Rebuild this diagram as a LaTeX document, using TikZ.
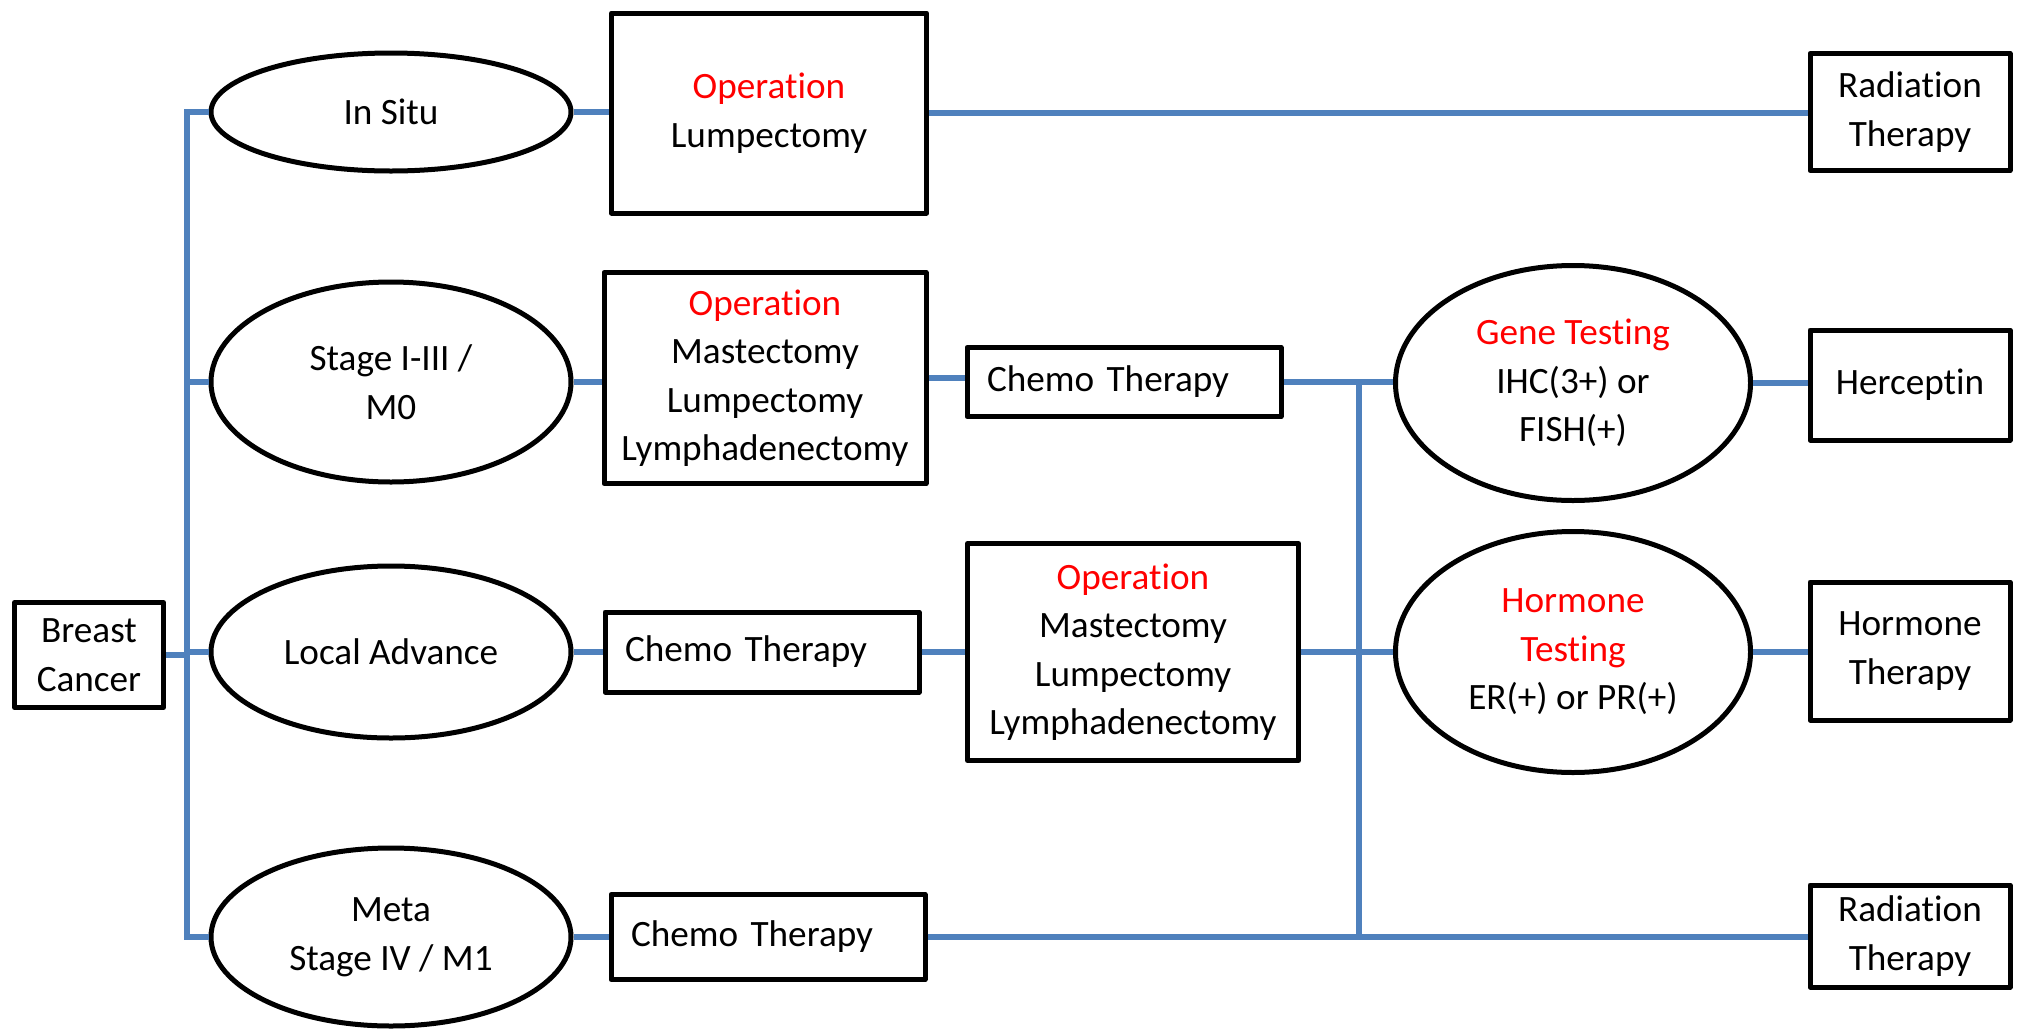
\documentclass[tikz,border=0pt]{standalone}
\usepackage{fontspec}
\setmainfont{Carlito}[Ligatures={NoCommon}]
\usetikzlibrary{shapes.geometric}
\definecolor{lineblue}{RGB}{79,129,189}
\newcommand{\boxfont}{\fontsize{18.6pt}{24.25pt}\selectfont}
\tikzset{box base/.style={draw,line width=2.5pt,line join=round,align=center,font=\boxfont}, }
\tikzset{box node/.style 2 args={rectangle,box base,minimum width=#1,minimum height=#2}, }
\tikzset{oval node/.style 2 args={ellipse,box base,inner sep=0pt,minimum width=#1,minimum height=#2}, }
\tikzset{chemo node/.style={rectangle,box base,align=left,text width=137pt,inner xsep=10pt,minimum height=#1}, }
\tikzset{link/.style={draw,line width=2.6pt,lineblue}}

\begin{document}
\begin{tikzpicture}[x=0.5pt,y=-0.5pt]
  \useasboundingbox (0,0) rectangle (2020,1029);
  % stages
  \node[box node={74.5pt}{52.5pt}] (1) at (89,655) {Breast\\Cancer};
  \node[oval node={180pt}{59pt}] (2) at (391,112) {In Situ};
  \node[oval node={180pt}{100pt}] (3) at (391,382) {Stage I-III /\\M0};
  \node[oval node={180pt}{86pt}] (4) at (391,652) {Local Advance};
  \node[oval node={180pt}{89pt}] (5) at (391,937) {Meta\\Stage IV / M1};
  % first treatment
  \node[box node={157.5pt}{100pt}] (6) at (769,113) {\textcolor{red}{Operation}\\Lumpectomy};
  \node[box node={161pt}{105.5pt}] (7) at (765,378) {\textcolor{red}{Operation}\\Mastectomy\\Lumpectomy\\Lymphadenectomy};
  \node[chemo node=40pt] (8) at (762,652) {Chemo Therapy};
  \node[chemo node=42.5pt] (9) at (768,937) {Chemo Therapy};
  % second treatment
  \node[chemo node=34.5pt] (10) at (1124,382) {Chemo Therapy};
  \node[box node={165.5pt}{108.5pt}] (11) at (1133,652) {\textcolor{red}{Operation}\\Mastectomy\\Lumpectomy\\Lymphadenectomy};
  % testing
  \node[oval node={177.5pt}{117.5pt}] (12) at (1573,383) {\textcolor{red}{Gene Testing}\\IHC(3+) or\\FISH(+)};
  \node[oval node={177.5pt}{120.5pt}] (13) at (1573,652) {\textcolor{red}{Hormone}\\\textcolor{red}{Testing}\\ER(+) or PR(+)};
  % therapy
  \node[box node={100pt}{58.5pt}] (14) at (1910,112) {Radiation\\Therapy};
  \node[box node={100pt}{55pt}] (15) at (1910,385) {Herceptin};
  \node[box node={100pt}{69pt}] (16) at (1910,651) {Hormone\\Therapy};
  \node[box node={100pt}{51pt}] (17) at (1910,936) {Radiation\\Therapy};
  %
  \coordinate (t) at (187,0);
  \coordinate (j) at (1359,0);
  \draw[link] (2) -- (2 -| t) -- (5 -| t) -- (5);
  \foreach \x in {1,3,4}
    \draw[link] (\x) -- (\x -| t);
  \foreach \x/\y in {2/6,6/14,3/7,7/10,10/12,4/8,8/11,11/13,5/9,9/17,12/15,13/16}
    \draw[link] (\x) -- (\x -| \y.west);
  \draw[link] (10 -| j) -- (9 -| j);
\end{tikzpicture}
\end{document}
